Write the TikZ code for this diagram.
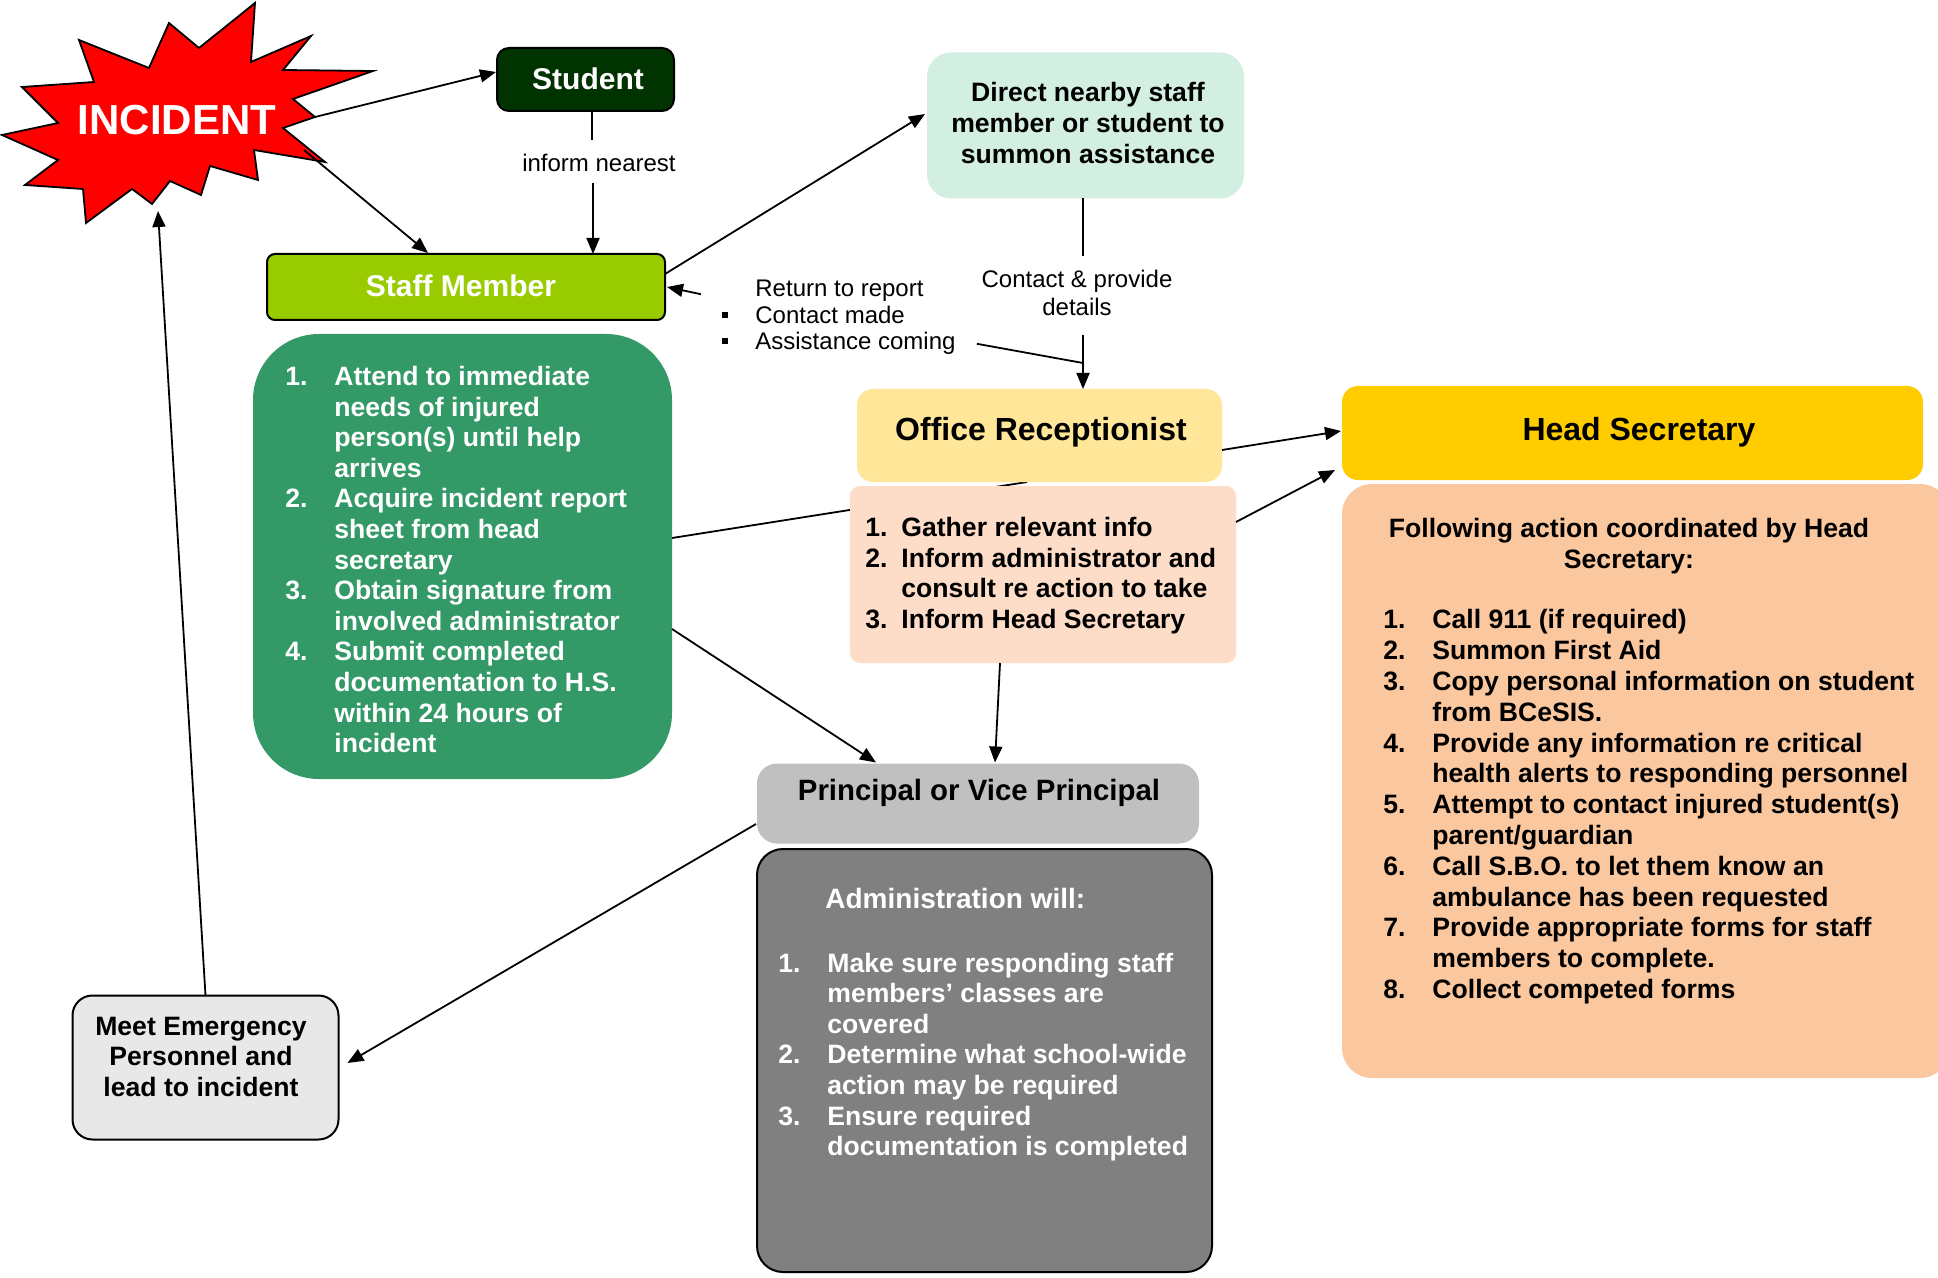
\documentclass[tikz,border=0pt]{standalone}
\usepackage{fontspec}
\setmainfont{Liberation Sans}
\usetikzlibrary{arrows.meta,calc}
\definecolor{incred}{RGB}{255,0,0}
\definecolor{studgreen}{RGB}{0,51,0}
\definecolor{staffgreen}{RGB}{153,204,0}
\definecolor{listgreen}{RGB}{51,153,102}
\definecolor{mint}{RGB}{211,239,225}
\definecolor{offyellow}{RGB}{255,230,153}
\definecolor{offpeach}{RGB}{253,221,200}
\definecolor{headyellow}{RGB}{255,204,0}
\definecolor{headpeach}{RGB}{251,199,158}
\definecolor{prgray}{RGB}{192,192,192}
\definecolor{admgray}{RGB}{128,128,128}
\definecolor{meetgray}{RGB}{232,232,232}
\pgfdeclarelayer{bg}
\pgfsetlayers{bg,main}
\newcommand\Itm[3][24.5pt]{\strut\makebox[#1][l]{#2}#3}
\newcommand\Cnt[2][24.5pt]{\strut\hspace*{#1}#2}
\begin{document}
\begin{tikzpicture}[x=0.5pt,y=-0.5pt,
  conn/.style={line width=0.9pt},
  arr/.style={conn,-{Triangle[length=8pt,width=6.5pt]}},
  box/.style={rectangle,inner sep=0pt,outer sep=0pt},
  outl/.style={draw=black,line width=1pt},
  body/.style={font=\bfseries\fontsize{13.3}{#1}\selectfont,inner sep=0pt,align=left,anchor=north west},
  body/.default=15.4,
  ttl/.style={font=\bfseries\fontsize{#1}{#1}\selectfont,inner sep=0pt,anchor=base},
  lbl/.style={font=\fontsize{12}{14}\selectfont,inner sep=0pt}
]
\useasboundingbox (0,0) rectangle (1938,1278);

% ---------- starburst ----------
\draw[fill=incred,line width=0.9pt,line join=miter]
 (255,3) -- (251,62) -- (311,36) -- (283,70) -- (373,71) -- (293,99) -- (315,117) -- (283,128)
 -- (325,162) -- (254,150) -- (258,180) -- (210,166) -- (201,195) -- (170,181) -- (152,204)
 -- (132,189) -- (86,223) -- (83,189) -- (25,185) -- (58,160) -- (2,135) -- (58,123)
 -- (22,87) -- (94,82) -- (79,40) -- (149,68) -- (169,23) -- (199,48) -- cycle;
\node[ttl=21,text=white] (incident) at (177,135) {INCIDENT};
\coordinate (starR) at (315,117);
\coordinate (starS) at (304,150);
\coordinate (starB) at (158,211);

% ---------- boxes ----------
\node[box,fill=studgreen,outl,rounded corners=6pt,minimum width=88.5pt,minimum height=31.5pt] (student) at (585.5,79.5) {};
\node[ttl=15,text=white] (studentt) at (588,90) {Student};

\node[box,fill=staffgreen,outl,rounded corners=4pt,minimum width=199pt,minimum height=33pt] (staff) at (466,287) {};
\node[ttl=15,text=white] (stafft) at (461,297) {Staff Member};

\node[box,fill=listgreen,rounded corners=33pt,minimum width=209.5pt,minimum height=222.5pt] (stafflist) at (462.5,556.5) {};
\node[body=15.3,text=white] (stafflistt) at (285,363.6) {%
\Itm{1.}{Attend to immediate}\\
\Cnt{needs of injured}\\
\Cnt{person(s) until help}\\
\Cnt{arrives}\\
\Itm{2.}{Acquire incident report}\\
\Cnt{sheet from head}\\
\Cnt{secretary}\\
\Itm{3.}{Obtain signature from}\\
\Cnt{involved administrator}\\
\Itm{4.}{Submit completed}\\
\Cnt{documentation to H.S.}\\
\Cnt{within 24 hours of}\\
\Cnt{incident}};

\node[box,fill=mint,rounded corners=12pt,minimum width=158.5pt,minimum height=73pt] (direct) at (1085.5,125.5) {};
\node[body=15.5,align=center,anchor=north] (directt) at (1088,79.3) {\strut Direct nearby staff\\\strut member or student to\\\strut summon assistance};

\node[box,fill=offyellow,rounded corners=8pt,minimum width=182.5pt,minimum height=46.5pt] (office) at (1039.5,435.5) {};
\node[ttl=16] (officet) at (1041,441) {Office Receptionist};

\node[box,fill=offpeach,rounded corners=5pt,minimum width=193pt,minimum height=88.5pt] (offlist) at (1043,574.5) {};
\node[body=15.45] (offlistt) at (865,514.1) {%
\Itm[18pt]{1.}{Gather relevant info}\\
\Itm[18pt]{2.}{Inform administrator and}\\
\Cnt[18pt]{consult re action to take}\\
\Itm[18pt]{3.}{Inform Head Secretary}};

\node[box,fill=headyellow,rounded corners=8pt,minimum width=290.5pt,minimum height=47pt] (head) at (1632.5,433) {};
\node[ttl=16] (headt) at (1639,441) {Head Secretary};

\node[box,fill=headpeach,rounded corners=15pt,minimum width=304pt,minimum height=297pt] (headlist) at (1646,781) {};
\node[body=15.7,align=center,anchor=north] (headhdr) at (1629,515) {\strut Following action coordinated by Head\\\strut Secretary:};
\node[body=15.4] (headlistt) at (1383,607) {%
\Itm{1.}{Call 911 (if required)}\\
\Itm{2.}{Summon First Aid}\\
\Itm{3.}{Copy personal information on student}\\
\Cnt{from BCeSIS.}\\
\Itm{4.}{Provide any information re critical}\\
\Cnt{health alerts to responding personnel}\\
\Itm{5.}{Attempt to contact injured student(s)}\\
\Cnt{parent/guardian}\\
\Itm{6.}{Call S.B.O. to let them know an}\\
\Cnt{ambulance has been requested}\\
\Itm{7.}{Provide appropriate forms for staff}\\
\Cnt{members to complete.}\\
\Itm{8.}{Collect competed forms}};

\node[box,fill=prgray,rounded corners=10pt,minimum width=221pt,minimum height=40pt] (principal) at (978,803.5) {};
\node[ttl=14.7] (principalt) at (979,800) {Principal or Vice Principal};

\node[box,fill=admgray,outl,rounded corners=13pt,minimum width=227.5pt,minimum height=211.5pt] (admin) at (984.5,1060.5) {};
\node[ttl=14,text=white,anchor=base west] (adminhdr) at (825,908) {Administration will:};
\node[body=15.3,text=white] (admint) at (778,950.3) {%
\Itm{1.}{Make sure responding staff}\\
\Cnt{members’ classes are}\\
\Cnt{covered}\\
\Itm{2.}{Determine what school-wide}\\
\Cnt{action may be required}\\
\Itm{3.}{Ensure required}\\
\Cnt{documentation is completed}};

\node[box,fill=meetgray,outl,rounded corners=10pt,minimum width=133pt,minimum height=72pt] (meet) at (205.5,1067.5) {};
\node[body=15.15,align=center,anchor=north] (meett) at (201,1013.8) {\strut Meet Emergency\\\strut Personnel and\\\strut lead to incident};

% ---------- labels ----------
\node[lbl,anchor=base] (inform) at (599,172) {inform nearest};
\node[lbl,anchor=base west] (ret1) at (755,297) {Return to report};
\node[lbl,anchor=base west] (ret2) at (722,324) {\rule[3pt]{3pt}{3pt}\hspace{13.5pt}Contact made};
\node[lbl,anchor=base west] (ret3) at (722,350) {\rule[3pt]{3pt}{3pt}\hspace{13.5pt}Assistance coming};
\node[lbl,align=center,anchor=north] (contact) at (1077,267.4) {\strut Contact \& provide\\\strut details};
\coordinate (cj) at (1083,363);

% ---------- connectors ----------
\begin{pgfonlayer}{bg}
\fill[white] (0,0) rectangle (1938,1278);
\draw[conn] ($(stafflist.east)+(0,-18.5)$) -- ($(office.south)+(-12.5,0)$);
\end{pgfonlayer}

\draw[arr] (starR) -- ($(student.west)+(-1,-7.5)$);
\draw[arr] (starS) -- ($(staff.north west)+(161,-1)$);
\draw[conn] ($(student.south)+(6.5,0)$) -- ($(inform.north)+(-7,-14.5)$);
\draw[arr] ($(inform.south)+(-6,10)$) -- ($(staff.north)+(127,0)$);
\draw[arr] ($(staff.east)+(0,-13)$) -- ($(direct.west)+(-2,-11.5)$);
\draw[arr] ($(ret1.west)+(-54,3)$) -- ($(staff.east)+(2,0)$);
\draw[conn] ($(direct.south)+(-2.5,0)$) -- ($(contact.north)+(6,-11)$);
\draw[arr] ($(contact.south)+(6,10.6)$) -- ($(office.north)+(43.5,0)$);
\draw[conn] ($(ret3.east)+(21,0)$) -- (cj);
\draw[arr] ($(office.east)+(0,14.5)$) -- ($(head.west)+(-1,-2)$);
\draw[arr] ($(offlist.east)+(0,-52.5)$) -- ($(head.south west)+(-7,-10)$);
\draw[arr] ($(stafflist.east)+(0,72.5)$) -- ($(principal.north)+(-102,-1)$);
\draw[arr] ($(offlist.south)+(-43,0)$) -- ($(principal.north)+(17,-1)$);
\draw[arr] ($(principal.west)+(-1,20.5)$) -- ($(meet.east)+(9,-4.5)$);
\draw[arr] (meet.north) -- (starB);
\end{tikzpicture}
\end{document}
